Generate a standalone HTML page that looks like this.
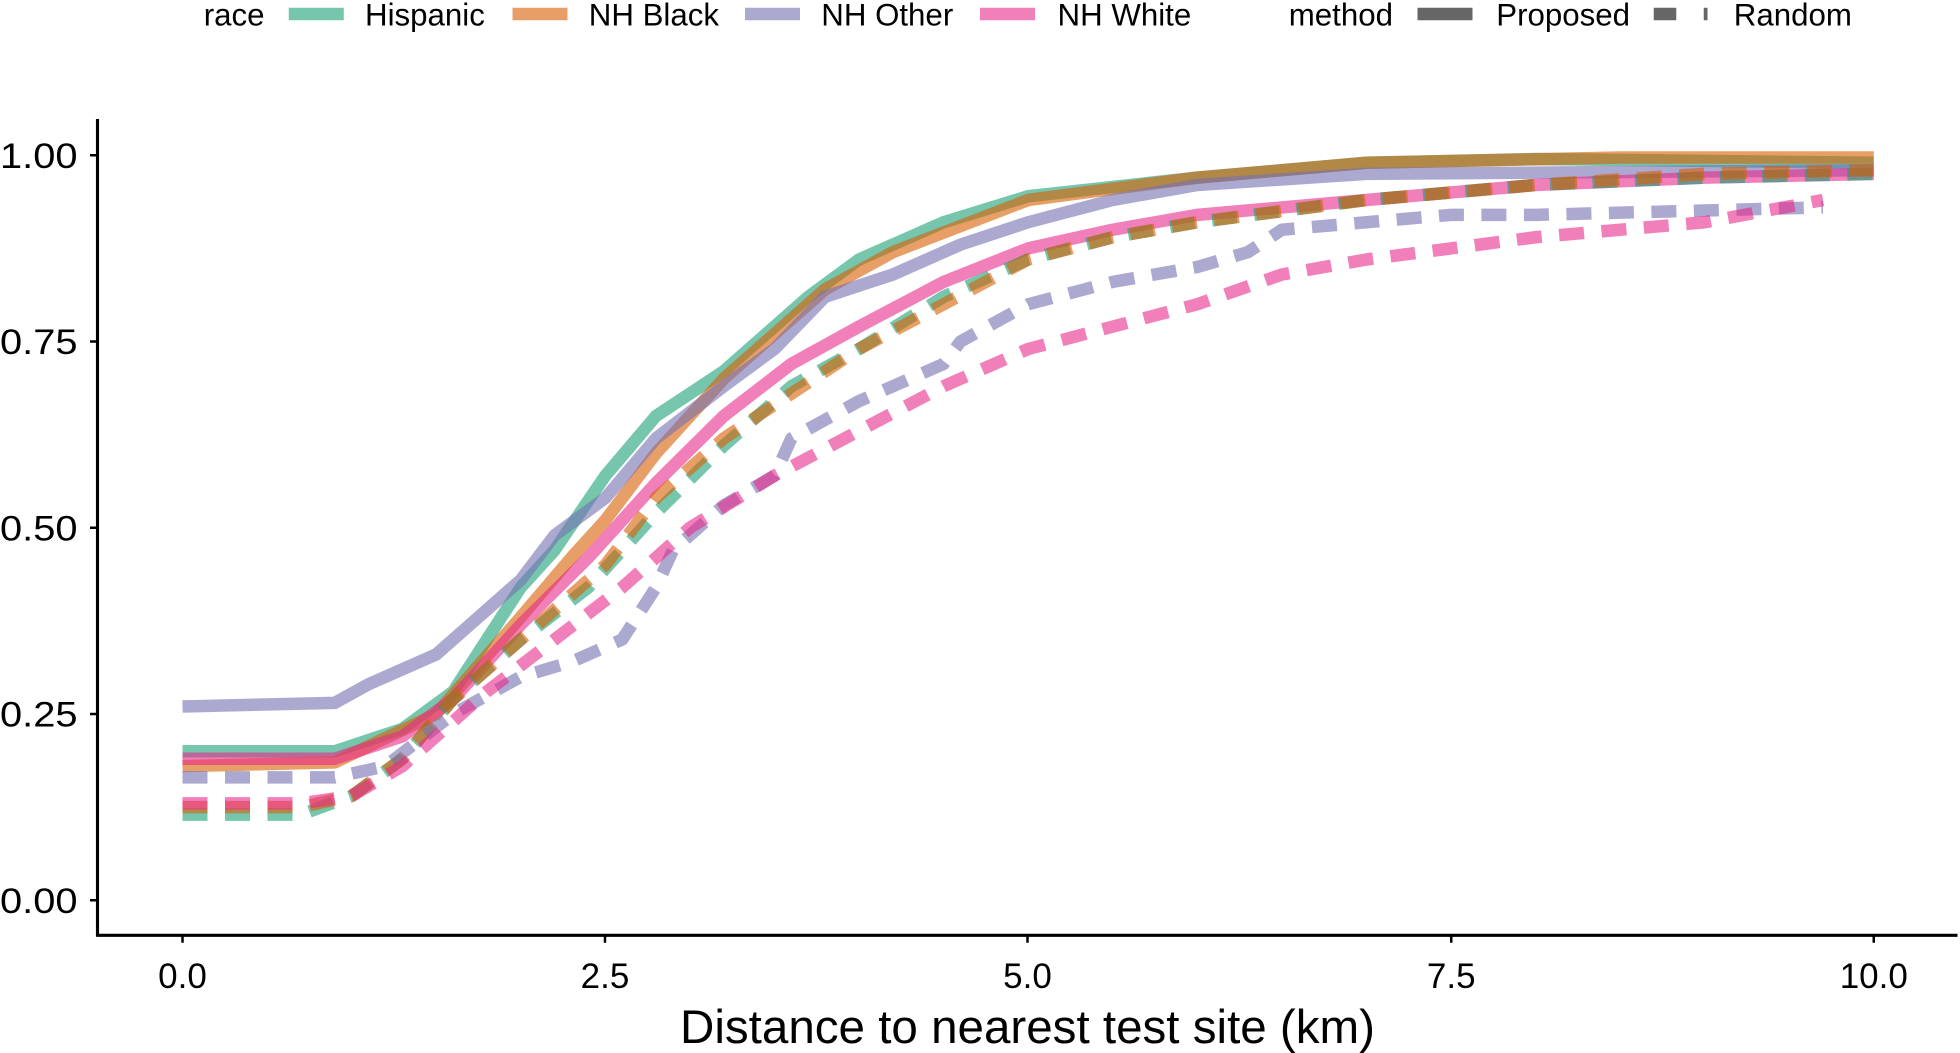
<!DOCTYPE html>
<html><head><meta charset="utf-8"><style>
html,body{margin:0;padding:0;background:#fff;}
svg{display:block;font-family:"Liberation Sans",Arial,sans-serif;}
</style></head><body>
<svg id="c" width="1960" height="1053" viewBox="0 0 1568 842" xmlns="http://www.w3.org/2000/svg">
<rect width="1568" height="842" fill="#fff"/>
<g id="series"></g>
<line x1="78" y1="95" x2="78" y2="749" stroke="#000" stroke-width="2.5"/>
<line x1="77" y1="748" x2="1566" y2="748" stroke="#000" stroke-width="2.5"/>
<g stroke="#000" stroke-width="2">
<line x1="72" y1="124" x2="78" y2="124"/><line x1="72" y1="273" x2="78" y2="273"/><line x1="72" y1="422" x2="78" y2="422"/><line x1="72" y1="571" x2="78" y2="571"/><line x1="72" y1="720" x2="78" y2="720"/>
<line x1="146" y1="748" x2="146" y2="754"/><line x1="484" y1="748" x2="484" y2="754"/><line x1="822" y1="748" x2="822" y2="754"/><line x1="1161" y1="748" x2="1161" y2="754"/><line x1="1499" y1="748" x2="1499" y2="754"/>
</g>
<g font-size="28" fill="#000" text-anchor="end">
<text x="62" y="134" textLength="62" lengthAdjust="spacingAndGlyphs">1.00</text><text x="62" y="283" textLength="62" lengthAdjust="spacingAndGlyphs">0.75</text><text x="62" y="432" textLength="62" lengthAdjust="spacingAndGlyphs">0.50</text><text x="62" y="581" textLength="62" lengthAdjust="spacingAndGlyphs">0.25</text><text x="62" y="730" textLength="62" lengthAdjust="spacingAndGlyphs">0.00</text>
</g>
<g font-size="28" fill="#000" text-anchor="middle">
<text x="146" y="790">0.0</text><text x="484" y="790">2.5</text><text x="822" y="790">5.0</text><text x="1161" y="790">7.5</text><text x="1499" y="790">10.0</text>
</g>
<text x="822" y="834" font-size="38" text-anchor="middle" textLength="556" lengthAdjust="spacingAndGlyphs">Distance to nearest test site (km)</text>
<g font-size="25" fill="#000">
<text x="163" y="20">race</text>
<rect x="231" y="6" width="44" height="10" fill="#1b9e77" opacity="0.6"/><text x="292" y="20">Hispanic</text>
<rect x="410" y="6" width="44" height="10" fill="#d95f02" opacity="0.6"/><text x="471" y="20">NH Black</text>
<rect x="596" y="6" width="44" height="10" fill="#7570b3" opacity="0.6"/><text x="657" y="20">NH Other</text>
<rect x="784" y="6" width="44" height="10" fill="#e7298a" opacity="0.6"/><text x="846" y="20">NH White</text>
<text x="1031" y="20">method</text>
<rect x="1134" y="6" width="44" height="10" fill="#666"/><text x="1197" y="20">Proposed</text>
<rect x="1323" y="6" width="18" height="10" fill="#666"/><rect x="1363" y="6" width="3" height="10" fill="#666"/><text x="1387" y="20">Random</text>
</g>
</svg>
<script>
function X(v){return 146+v*135.3;}function Y(v){return 720-v*596;}
var S=[
["#1b9e77",0,[[0,.2],[.9,.2],[1.3,.23],[1.6,.28],[1.8,.35],[2,.42],[2.2,.47],[2.5,.57],[2.8,.65],[3.2,.71],[3.5,.77],[3.7,.81],[4,.86],[4.5,.91],[5,.945],[6,.97],[7,.99],[8,.995],[10,.99]]],
["#d95f02",0,[[0,.18],[.9,.185],[1.5,.25],[2,.38],[2.3,.46],[2.5,.51],[2.8,.6],[3.2,.7],[3.6,.78],[3.8,.82],[4.2,.87],[5,.94],[6,.97],[7,.99],[8.5,.997],[10,.997]]],
["#7570b3",0,[[0,.26],[.9,.265],[1.1,.29],[1.5,.33],[1.8,.39],[2,.43],[2.2,.49],[2.5,.54],[2.8,.62],[3.2,.69],[3.5,.74],[3.8,.81],[4.2,.84],[4.6,.88],[5,.91],[5.5,.94],[6,.96],[7,.975],[10,.98]]],
["#e7298a",0,[[0,.19],[.9,.19],[1.3,.22],[1.6,.27],[2,.37],[2.4,.46],[2.8,.56],[3.2,.65],[3.6,.72],[4,.77],[4.5,.83],[5,.875],[5.5,.9],[6,.92],[7,.94],[8,.96],[9,.97],[10,.975]]],
["#1b9e77",1,[[0,.115],[.7,.115],[1,.14],[1.3,.19],[1.6,.27],[2,.35],[2.4,.42],[2.8,.52],[3.2,.61],[3.6,.69],[4,.74],[4.5,.81],[5,.86],[5.5,.89],[6,.91],[7,.94],[8,.96],[9,.97],[10,.975]]],
["#d95f02",1,[[0,.125],[.7,.125],[1,.14],[1.3,.19],[1.6,.27],[2,.35],[2.5,.45],[2.8,.54],[3.2,.62],[3.6,.68],[4,.74],[4.5,.8],[5,.86],[5.5,.89],[6,.91],[7,.94],[8,.96],[9,.975],[10,.98]]],
["#7570b3",1,[[0,.165],[.9,.165],[1.2,.18],[1.6,.25],[2,.3],[2.3,.32],[2.6,.35],[2.8,.42],[2.9,.47],[3.2,.53],[3.5,.57],[3.6,.62],[4,.67],[4.5,.72],[4.6,.75],[5,.8],[5.5,.83],[6,.85],[6.3,.87],[6.5,.9],[7,.91],[7.5,.92],[8,.92],[9.7,.93]]],
["#e7298a",1,[[0,.13],[.7,.13],[1,.14],[1.3,.18],[1.8,.28],[2.2,.35],[2.6,.42],[3,.5],[3.5,.57],[4,.63],[4.5,.69],[5,.74],[5.5,.77],[6,.8],[6.5,.84],[7,.86],[8,.89],[9,.91],[9.7,.94]]]
];
var g=document.getElementById("series"),h="";
S.forEach(function(s){var p=s[2].map(function(q){return X(q[0]).toFixed(1)+","+Y(q[1]).toFixed(1)}).join(" ");
h+='<polyline points="'+p+'" fill="none" stroke="'+s[0]+'" stroke-opacity="0.6" stroke-width="10" stroke-linejoin="round"'+(s[1]?' stroke-dasharray="20 14"':'')+'/>';});
g.innerHTML=h;
</script>
</body></html>
